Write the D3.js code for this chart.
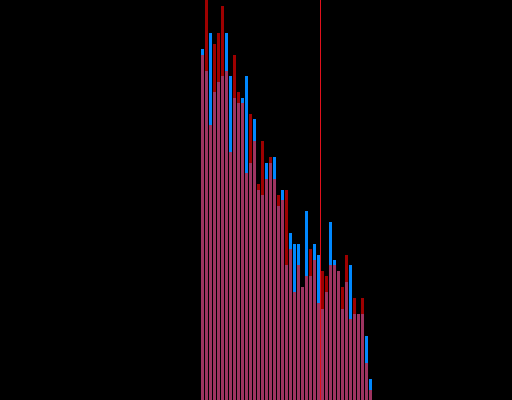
<!DOCTYPE html>
<html>
<head>
<meta charset="utf-8">
<script src="https://cdn.jsdelivr.net/npm/d3@7"></script>
<style>
html,body{margin:0;padding:0;background:#000;overflow:hidden;}
svg{display:block;}
</style>
</head>
<body>
<script>
// bin indices (histogram bins)
const bins = d3.range(43);
// series A (blue) counts per bin
const blueValues = [351,329,367,308,318,324,367,324,302,297,302,324,237,281,210,205,237,237,243,194,210,135,167,156,156,113,189,124,156,145,91,108,178,140,129,91,118,135,86,86,86,64,21];
// series B (red) counts per bin
const redValues = [345,400,275,356,367,394,329,248,345,308,297,227,286,259,216,259,221,243,221,205,200,210,151,108,135,113,124,151,140,97,129,124,135,135,129,113,145,81,102,86,102,37,10];
// reference line position (in bin units)
const markerValue = [29.875];

const W = 512, H = 400;
const svg = d3.select("body").append("svg").attr("width", W).attr("height", H);
svg.append("rect").attr("width", W).attr("height", H).attr("fill", "#000");

const x = d3.scaleLinear().domain([0, 43]).range([201, 373]);
const y = d3.scaleLinear().domain([0, 400]).range([H, 0]);

const barW = d => x(d + 1) - x(d) - 1;

svg.append("g").selectAll("rect").data(bins).join("rect")
  .attr("x", d => x(d))
  .attr("width", barW)
  .attr("y", d => y(blueValues[d]))
  .attr("height", d => H - y(blueValues[d]))
  .attr("fill", "#0088ff")
  .attr("shape-rendering", "crispEdges");

svg.append("g").selectAll("rect").data(bins).join("rect")
  .attr("x", d => x(d))
  .attr("width", barW)
  .attr("y", d => y(redValues[d]))
  .attr("height", d => H - y(redValues[d]))
  .attr("fill", "#ff0000")
  .attr("fill-opacity", 0.62)
  .attr("shape-rendering", "crispEdges");

svg.append("g").selectAll("line").data(markerValue).join("line")
  .attr("x1", d => x(d)).attr("x2", d => x(d))
  .attr("y1", 0).attr("y2", H)
  .attr("stroke", "#e0101c")
  .attr("stroke-width", 1.2)
  .attr("shape-rendering", "crispEdges");
</script>
</body>
</html>
